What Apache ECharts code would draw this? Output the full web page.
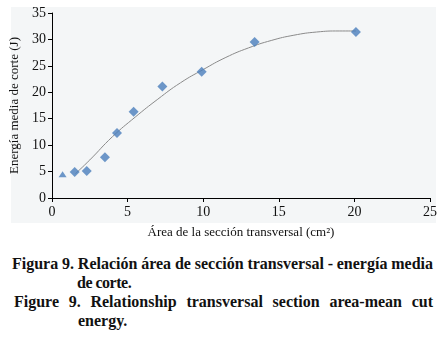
<!DOCTYPE html>
<html>
<head>
<meta charset="utf-8">
<script src="https://cdn.jsdelivr.net/npm/echarts@6/dist/echarts.min.js"></script>
<style>
  html, body { margin: 0; padding: 0; background: #fff; }
  #wrap { position: relative; width: 448px; height: 339px; overflow: hidden; }
  #panel { position: absolute; left: 11px; top: 7px; width: 425px; height: 216px; background: #f4f6f7; }
  #chart { position: absolute; left: 0; top: 0; width: 448px; height: 245px; }
  .cap { position: absolute; font-family: 'Liberation Serif', serif; font-weight: bold;
         font-size: 16px; line-height: 19px; color: #111; white-space: nowrap; transform-origin: 0 0; }
</style>
</head>
<body>
<div id="wrap">
  <div id="panel"></div>
  <div id="chart"></div>
  <div class="cap" id="c1" style="left:12px; top:254px; word-spacing:-2px;">Figura 9. Relación área de sección transversal - energía media</div>
  <div class="cap" style="left:77px; top:273px; letter-spacing:-0.5px;">de corte.</div>
  <div class="cap" id="c3" style="left:14px; top:292px;">Figure 9. Relationship transversal section area-mean cut</div>
  <div class="cap" style="left:78px; top:311px;">energy.</div>
</div>
<script>
const areaCm2 = [0.7, 1.5, 2.3, 3.5, 4.3, 5.4, 7.3, 9.9, 13.4, 20.1]
const energiaJ = [4.5, 4.9, 5.1, 7.7, 12.3, 16.3, 21.1, 23.9, 29.5, 31.4]

// línea de tendencia (trazada a ojo sobre la imagen)
const trendX = [1.55, 2.5, 4, 5.5, 7, 8.5, 10, 11.5, 13, 14.5, 16, 17.5, 19, 20.1]
const trendY = [4.6, 7.2, 11.6, 15.3, 18.7, 21.8, 24.3, 26.6, 28.4, 29.8, 30.8, 31.4, 31.6, 31.6]

const xTicks = [0, 5, 10, 15, 20, 25]
const yTicks = [0, 5, 10, 15, 20, 25, 30, 35]

const serif = 'Liberation Serif'
const axisColor = '#000'

// ajusta una línea del pie a un ancho dado: estira espacios o comprime
function fitLine(el, target) {
  const w = el.getBoundingClientRect().width
  if (w > target) {
    el.style.transform = `scaleX(${target / w})`
  } else {
    const words = el.textContent.split(' ').length - 1
    const ws = parseFloat(getComputedStyle(el).wordSpacing) || 0
    el.style.wordSpacing = (ws + (target - w) / words) + 'px'
  }
}
fitLine(document.getElementById('c1'), 421)
fitLine(document.getElementById('c3'), 419)

const chart = echarts.init(document.getElementById('chart'), null, { renderer: 'canvas' })

chart.setOption({
  animation: false,
  backgroundColor: 'transparent',
  grid: { left: 52, right: 18, top: 13, height: 185, containLabel: false },
  xAxis: {
    type: 'value',
    min: xTicks[0],
    max: xTicks[xTicks.length - 1],
    interval: 5,
    name: 'Área de la sección transversal (cm²)',
    nameLocation: 'middle',
    nameGap: 28,
    nameTextStyle: { fontFamily: serif, fontSize: 13, color: '#111' },
    axisLine: { lineStyle: { color: axisColor, width: 1 } },
    axisTick: { show: true, length: 4, lineStyle: { color: axisColor } },
    axisLabel: { fontFamily: serif, fontSize: 14, color: '#111', margin: 7 },
    splitLine: { show: false }
  },
  yAxis: {
    type: 'value',
    min: yTicks[0],
    max: yTicks[yTicks.length - 1],
    interval: 5,
    name: 'Energía media de corte (J)',
    nameLocation: 'middle',
    nameGap: 30,
    nameTextStyle: { fontFamily: serif, fontSize: 13, color: '#111' },
    axisLine: { show: true, lineStyle: { color: axisColor, width: 1 } },
    axisTick: { show: true, length: 4, lineStyle: { color: axisColor } },
    axisLabel: { fontFamily: serif, fontSize: 14, color: '#111', margin: 6 },
    splitLine: { show: false }
  },
  series: [
    {
      type: 'line',
      data: trendX.map((x, i) => [x, trendY[i]]),
      smooth: true,
      showSymbol: false,
      lineStyle: { color: '#8a8a8a', width: 1 },
      z: 2
    },
    {
      type: 'scatter',
      data: areaCm2.map((x, i) => {
        const d = { value: [x, energiaJ[i]] }
        if (i === 0) { d.symbol = 'triangle'; d.symbolSize = [8, 6] }
        return d
      }),
      symbol: 'diamond',
      symbolSize: 10,
      itemStyle: { color: '#4a7ebb' },
      z: 3
    }
  ]
})
</script>
</body>
</html>
